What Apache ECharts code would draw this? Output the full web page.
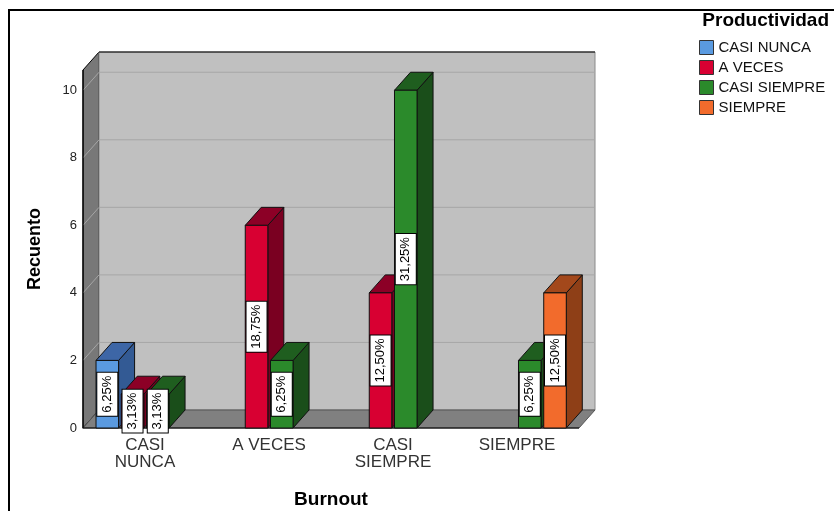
<!DOCTYPE html>
<html>
<head>
<meta charset="utf-8">
<script src="https://cdn.jsdelivr.net/npm/echarts@6/dist/echarts.min.js"></script>
<style>
  html, body { margin: 0; padding: 0; background: #fff; }
  #chart { width: 834px; height: 511px; }
</style>
</head>
<body>
<div id="chart"></div>
<script>
// Burnout categories on the x axis
const categories = ['CASI NUNCA', 'A VECES', 'CASI SIEMPRE', 'SIEMPRE'];
// Productividad levels (cluster members / legend)
const levels = ['CASI NUNCA', 'A VECES', 'CASI SIEMPRE', 'SIEMPRE'];
// Counts per Productividad level, one entry per Burnout category (null = no bar)
const countsCasiNunca   = [2, null, null, null];
const countsAVeces      = [1, 6, 4, null];
const countsCasiSiempre = [1, 2, 10, 2];
const countsSiempre     = [null, null, null, 4];
// Y axis tick values
const yTicks = [0, 2, 4, 6, 8, 10];

const levelCounts = [countsCasiNunca, countsAVeces, countsCasiSiempre, countsSiempre];
const total = levelCounts.flat().reduce((s, v) => s + (v || 0), 0);

// face colours: front, top, side
const palette = [
  { front: '#5a9ae0', top: '#3d66a6', side: '#335a94' },
  { front: '#d80032', top: '#8c0026', side: '#7a0021' },
  { front: '#2b8a2b', top: '#1f5e1f', side: '#1a4e1a' },
  { front: '#f26b2c', top: '#a3481b', side: '#8e3f17' }
];

// depth of the 3D box in pixels
const DX = 16, DY = -18;

function pct(v) {
  return (v / total * 100).toFixed(2).replace('.', ',') + '%';
}

function wallsRender(params, api) {
  const cs = params.coordSys;
  const x = cs.x, y = cs.y, w = cs.width, h = cs.height;
  const children = [];
  // left wall
  children.push({
    type: 'polygon',
    shape: { points: [[x, y], [x + DX, y + DY], [x + DX, y + h + DY], [x, y + h]] },
    style: { fill: '#787878', stroke: '#000', lineWidth: 1 }
  });
  // back wall
  children.push({
    type: 'rect',
    shape: { x: x + DX, y: y + DY, width: w, height: h },
    style: { fill: '#c0c0c0', stroke: '#8a8a8a', lineWidth: 1 }
  });
  children.push({
    type: 'line',
    shape: { x1: x + DX, y1: y + DY, x2: x + DX + w, y2: y + DY },
    style: { stroke: '#000', lineWidth: 1 }
  });
  // floor
  children.push({
    type: 'polygon',
    shape: { points: [[x, y + h], [x + DX, y + h + DY], [x + w + DX, y + h + DY], [x + w, y + h]] },
    style: { fill: '#808080', stroke: '#555', lineWidth: 1 }
  });
  // grid lines on back and left walls
  yTicks.forEach(t => {
    if (t === 0) return;
    const yy = api.coord([0, t])[1];
    children.push({
      type: 'polyline',
      shape: { points: [[x, yy], [x + DX, yy + DY], [x + DX + w, yy + DY]] },
      style: { stroke: '#a6a6a6', lineWidth: 1, fill: null }
    });
  });
  // front edges
  children.push({
    type: 'polyline',
    shape: { points: [[x, y], [x, y + h], [x + w, y + h]] },
    style: { stroke: '#000', lineWidth: 1.2, fill: null }
  });
  return { type: 'group', children: children };
}

function makeBarRender(k) {
  return function (params, api) {
    const cat = api.value(0);
    const val = api.value(1);
    const base = api.coord([cat, 0]);
    const topPt = api.coord([cat, val]);
    const catW = api.size([1, 0])[0];
    const w = catW * 0.182;
    const x0 = base[0] - catW * 0.395 + k * catW * 0.2035;
    const yb = base[1], yt = topPt[1];
    const c = palette[k];
    const stroke = { stroke: '#111', lineWidth: 1, lineJoin: 'round' };
    const children = [
      {
        type: 'polygon',
        shape: { points: [[x0 + w, yt], [x0 + w + DX, yt + DY], [x0 + w + DX, yb + DY], [x0 + w, yb]] },
        style: Object.assign({ fill: c.side }, stroke)
      },
      {
        type: 'polygon',
        shape: { points: [[x0, yt], [x0 + DX, yt + DY], [x0 + w + DX, yt + DY], [x0 + w, yt]] },
        style: Object.assign({ fill: c.top }, stroke)
      },
      {
        type: 'rect',
        shape: { x: x0, y: yt, width: w, height: yb - yt },
        style: Object.assign({ fill: c.front }, stroke)
      },
      {
        type: 'text',
        x: x0 + w / 2,
        y: (yt + yb) / 2,
        rotation: Math.PI / 2,
        style: {
          text: pct(val),
          font: '13px "Liberation Sans", Arial, sans-serif',
          fill: '#000',
          align: 'center',
          verticalAlign: 'middle',
          backgroundColor: '#fff',
          borderColor: '#000',
          borderWidth: 1,
          padding: [4, 3, 3, 3]
        }
      }
    ];
    return { type: 'group', children: children };
  };
}

const barSeries = levels.map((name, k) => ({
  name: name,
  type: 'custom',
  renderItem: makeBarRender(k),
  itemStyle: { color: palette[k].front },
  data: levelCounts[k].map((v, i) => (v == null ? null : [i, v])).filter(d => d),
  encode: { x: 0, y: 1 },
  z: 3 + k,
  silent: true
}));

const chart = echarts.init(document.getElementById('chart'), null, { renderer: 'canvas' });
chart.setOption({
  animation: false,
  backgroundColor: '#fff',
  grid: { left: 83, right: 255, top: 70, bottom: 83 },
  xAxis: {
    type: 'category',
    data: categories,
    axisLine: { show: false },
    axisTick: { show: false },
    splitLine: { show: false },
    axisLabel: {
      margin: 9,
      fontSize: 17,
      lineHeight: 17,
      color: '#333',
      fontFamily: '"Liberation Sans", Arial, sans-serif',
      formatter: v => (v.indexOf('CASI ') === 0 ? v.replace(' ', '\n') : v)
    }
  },
  yAxis: {
    type: 'value',
    min: 0,
    max: 10.6,
    interval: 2,
    axisLine: { show: false },
    axisTick: { show: false },
    splitLine: { show: false },
    axisLabel: {
      margin: 6,
      fontSize: 13,
      color: '#222',
      fontFamily: '"Liberation Sans", Arial, sans-serif',
      formatter: v => (yTicks.indexOf(v) >= 0 ? String(v) : '')
    }
  },
  legend: {
    orient: 'vertical',
    left: 699,
    top: 40,
    padding: 0,
    itemWidth: 14,
    itemHeight: 14,
    itemGap: 5,
    icon: 'rect',
    selectedMode: false,
    textStyle: { fontSize: 15, color: '#111', fontFamily: '"Liberation Sans", Arial, sans-serif' },
    data: levels.map((n, k) => ({
      name: n,
      itemStyle: { color: palette[k].front, borderColor: '#333', borderWidth: 1 }
    }))
  },
  graphic: [
    {
      type: 'rect', silent: true, z: 100,
      shape: { x: 9, y: 10, width: 1000, height: 1000 },
      style: { fill: null, stroke: '#000', lineWidth: 2 }
    },
    {
      type: 'text', x: 35, y: 249, rotation: Math.PI / 2,
      style: { text: 'Recuento', font: 'bold 18px "Liberation Sans", Arial, sans-serif', fill: '#000', align: 'center', verticalAlign: 'middle' }
    },
    {
      type: 'text', x: 331, y: 500,
      style: { text: 'Burnout', font: 'bold 19px "Liberation Sans", Arial, sans-serif', fill: '#000', align: 'center', verticalAlign: 'middle' }
    },
    {
      type: 'text', x: 829, y: 21,
      style: { text: 'Productividad', font: 'bold 19px "Liberation Sans", Arial, sans-serif', fill: '#000', align: 'right', verticalAlign: 'middle' }
    }
  ],
  series: [
    {
      name: 'walls',
      type: 'custom',
      renderItem: wallsRender,
      data: [[0, 0]],
      encode: { x: 0, y: 1 },
      z: 1,
      silent: true
    }
  ].concat(barSeries)
});
</script>
</body>
</html>
